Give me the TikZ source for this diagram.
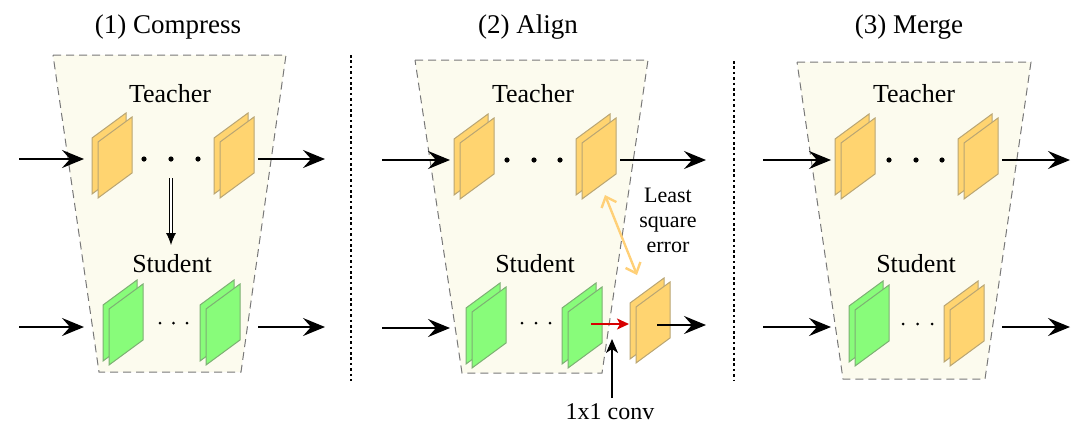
\documentclass[tikz,border=0pt]{standalone}
\usepackage{fontspec}
\setmainfont{Liberation Serif}
\usetikzlibrary{arrows.meta,calc}
\definecolor{tfill}{RGB}{255,212,112}
\definecolor{tedge}{RGB}{185,165,115}
\definecolor{sfill}{RGB}{136,252,122}
\definecolor{sedge}{RGB}{125,175,115}
\definecolor{trapfill}{RGB}{252,251,238}
\definecolor{trapedge}{RGB}{120,120,120}
\definecolor{lsq}{RGB}{255,208,120}
\definecolor{convred}{RGB}{215,0,0}
\tikzset{
  arr/.style={line width=1pt, -{Stealth[length=11pt,width=9pt,inset=4pt]}},
  trap/.style={draw=trapedge, dash pattern=on 4pt off 2.5pt, line width=0.5pt, fill=trapfill},
  sep/.style={line width=1.2pt, dash pattern=on 1.3pt off 1.4pt},
  sheet/.style={line width=0.5pt},
  lbl/.style={font=\fontsize{13}{15}\selectfont, anchor=base, inner sep=0pt},
  ttl/.style={font=\fontsize{13.5}{16}\selectfont, anchor=base, inner sep=0pt},
  hollow/.style={double, double distance=1.3pt, line width=0.45pt, -{Latex[length=6pt,width=5pt]}},
}
\newcommand\sheetpair[4]{%
  \coordinate (#1) at (#2,#3);
  \begin{scope}[shift={(#1)}]
    \filldraw[sheet, fill=#4fill, draw=#4edge] (-20,38) -- (-20,-18) -- (14,-43) -- (14,13) -- cycle;
    \filldraw[sheet, fill=#4fill, draw=#4edge] (-14,42) -- (-14,-14) -- (20,-39) -- (20,17) -- cycle;
  \end{scope}}
\newcommand\tdots[4]{%
  \fill (#1,#4) circle[radius=1.3pt];
  \fill (#2,#4) circle[radius=1.3pt];
  \fill (#3,#4) circle[radius=1.3pt];}
\newcommand\sdots[4]{%
  \fill (#1,#4) circle[radius=0.75pt];
  \fill (#2,#4) circle[radius=0.75pt];
  \fill (#3,#4) circle[radius=0.75pt];}
\begin{document}
\begin{tikzpicture}[x=0.5pt, y=-0.5pt]
\useasboundingbox (0,0) rectangle (1092,430);
% titles
\node[ttl] (t1) at (168,33) {(1) Compress};
\node[ttl] (t2) at (528,33) {(2) Align};
\node[ttl] (t3) at (909,33) {(3) Merge};
% trapezoids
\filldraw[trap] (53,55) -- (286,55) -- (241,372) -- (99,372) -- cycle;
\filldraw[trap] (415,60) -- (648,60) -- (602,373) -- (462,373) -- cycle;
\filldraw[trap] (797,62) -- (1031,62) -- (985,379) -- (843,379) -- cycle;
% separators
\coordinate (s1a) at (351,55); \coordinate (s1b) at (351,381);
\coordinate (s2a) at (734,61); \coordinate (s2b) at (734,381);
\draw[sep] (s1a) -- (s1b);
\draw[sep] (s2a) -- (s2b);
% labels
\node[lbl] (te1) at (170,102) {Teacher};
\node[lbl] (st1) at (172,272) {Student};
\node[lbl] (te2) at (533,102) {Teacher};
\node[lbl] (st2) at (535,272) {Student};
\node[lbl] (te3) at (914,102) {Teacher};
\node[lbl] (st3) at (916,272) {Student};
% ---------- panel 1
\sheetpair{p1t1}{112}{156}{t}
\sheetpair{p1t2}{234}{156}{t}
\sheetpair{p1s1}{123}{323}{s}
\sheetpair{p1s2}{220}{323}{s}
\tdots{144}{171}{198}{159}
\sdots{160}{173.5}{187}{323}
\coordinate (p1a) at (19,159);  \coordinate (p1b) at (84,159);
\coordinate (p1c) at (258,159); \coordinate (p1d) at (325,159);
\coordinate (p1e) at (19,327);  \coordinate (p1f) at (84,327);
\coordinate (p1g) at (258,327); \coordinate (p1h) at (325,327);
\draw[arr] (p1a) -- (p1b);
\draw[arr] (p1c) -- (p1d);
\draw[arr] (p1e) -- (p1f);
\draw[arr] (p1g) -- (p1h);
\coordinate (p1k) at (171,178); \coordinate (p1l) at (171,245);
\draw[hollow] (p1k) -- (p1l);
% ---------- panel 2
\sheetpair{p2t1}{474}{157}{t}
\sheetpair{p2t2}{596}{157}{t}
\sheetpair{p2s1}{486}{326}{s}
\sheetpair{p2s2}{582}{326}{s}
\sheetpair{p2x}{650}{321}{t}
\tdots{507}{534}{560}{160}
\sdots{522}{536}{550}{323}
\coordinate (p2a) at (382,160); \coordinate (p2b) at (450,160);
\coordinate (p2c) at (620,160); \coordinate (p2d) at (706,160);
\coordinate (p2e) at (382,328); \coordinate (p2f) at (450,328);
\coordinate (p2g) at (657,325); \coordinate (p2h) at (706,325);
\draw[arr] (p2a) -- (p2b);
\draw[arr] (p2c) -- (p2d);
\draw[arr] (p2e) -- (p2f);
\draw[arr] (p2g) -- (p2h);
\coordinate (p2r1) at (591,324); \coordinate (p2r2) at (629,324);
\draw[convred, line width=0.8pt, -{Stealth[length=6pt,width=5.5pt,inset=1.5pt]}] (p2r1) -- (p2r2);
\coordinate (p2l1) at (605,195); \coordinate (p2l2) at (637,275);
\draw[lsq, line width=1.2pt, {Straight Barb[length=4.5pt,width=8pt]}-{Straight Barb[length=4.5pt,width=8pt]}] (p2l1) -- (p2l2);
\node[font=\fontsize{11}{12.5}\selectfont, align=center, inner sep=0pt] (lse) at (668,220) {Least\\square\\error};
\node[font=\fontsize{12}{14}\selectfont, anchor=base, inner sep=0pt] (conv) at (610,419) {1x1 conv};
\coordinate (p2u1) at (612,398); \coordinate (p2u2) at (612,339);
\draw[line width=0.9pt, -{Stealth[length=7pt,width=6pt,inset=2pt]}] (p2u1) -- (p2u2);
% ---------- panel 3
\sheetpair{p3t1}{855}{157}{t}
\sheetpair{p3t2}{978}{157}{t}
\sheetpair{p3s1}{869}{324}{s}
\sheetpair{p3s2}{964}{324}{t}
\tdots{889}{916}{942}{160}
\sdots{903}{917.5}{932}{324}
\coordinate (p3a) at (763,160);  \coordinate (p3b) at (831,160);
\coordinate (p3c) at (1002,160); \coordinate (p3d) at (1070,160);
\coordinate (p3e) at (763,327);  \coordinate (p3f) at (831,327);
\coordinate (p3g) at (1002,327); \coordinate (p3h) at (1070,327);
\draw[arr] (p3a) -- (p3b);
\draw[arr] (p3c) -- (p3d);
\draw[arr] (p3e) -- (p3f);
\draw[arr] (p3g) -- (p3h);
\end{tikzpicture}
\end{document}
